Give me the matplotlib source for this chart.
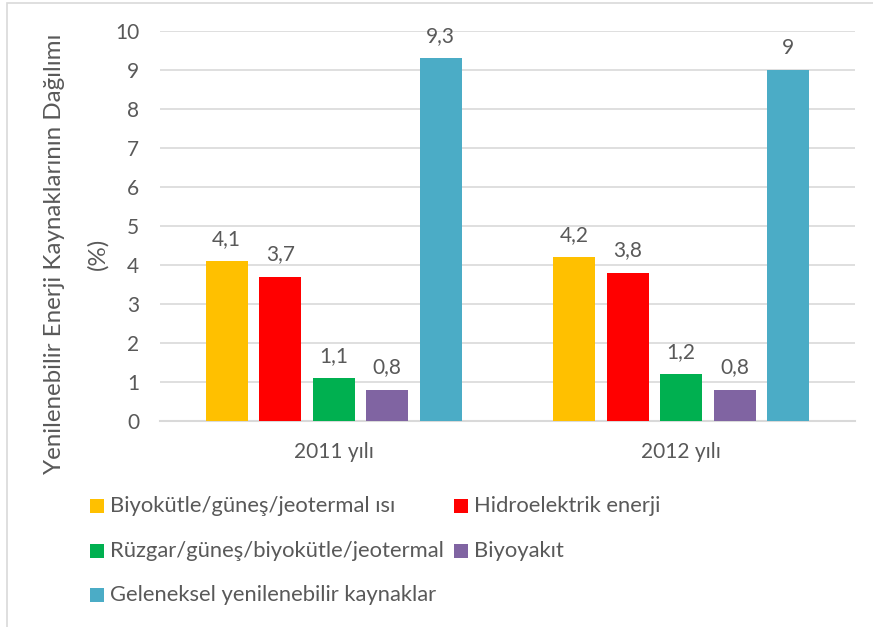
import matplotlib
matplotlib.use("Agg")
import matplotlib.pyplot as plt
import numpy as np
from matplotlib.patches import Rectangle

plt.rcParams['font.family'] = ['Lato', 'DejaVu Sans']

years = ["2011 yılı", "2012 yılı"]
series_names = [
    "Biyokütle/güneş/jeotermal ısı",
    "Hidroelektrik enerji",
    "Rüzgar/güneş/biyokütle/jeotermal",
    "Biyoyakıt",
    "Geleneksel yenilenebilir kaynaklar",
]
biyokutle_isi = [4.1, 4.2]
hidroelektrik = [3.7, 3.8]
ruzgar_gunes = [1.1, 1.2]
biyoyakit = [0.8, 0.8]
geleneksel = [9.3, 9.0]
series_values = [biyokutle_isi, hidroelektrik, ruzgar_gunes, biyoyakit, geleneksel]
colors = ["#FFC000", "#FF0000", "#00B050", "#8064A2", "#4BACC6"]
yticks = list(range(0, 11))

TXT = "#595959"
GRID = "#D9D9D9"

W, H = 873, 627
fig = plt.figure(figsize=(W / 100, H / 100), dpi=100)
ax = fig.add_axes([160 / W, 1 - 421 / H, 695 / W, 390 / H])

x = np.arange(len(years))
width = 0.121
step = 0.154
n = len(series_values)
for i, (vals, col, name) in enumerate(zip(series_values, colors, series_names)):
    pos = x + (i - (n - 1) / 2) * step
    bars = ax.bar(pos, vals, width, color=col, label=name, zorder=3)
    for b, v in zip(bars, vals):
        label = f"{v:g}".replace(".", ",")
        ax.annotate(label, (b.get_x() + b.get_width() / 2, v),
                    xytext=(0, 9), textcoords="offset points",
                    ha="center", va="bottom", fontsize=15, color=TXT)

ax.set_xlim(-0.5, len(years) - 0.5)
ax.set_ylim(0, 10)
ax.set_yticks(yticks)
ax.set_xticks(x)
ax.set_xticklabels(years)
ax.tick_params(axis="y", length=0, pad=15, labelsize=15, labelcolor=TXT)
ax.tick_params(axis="x", length=0, pad=15, labelsize=15, labelcolor=TXT)
ax.yaxis.grid(True, color=GRID, linewidth=1.2, zorder=0)
ax.set_axisbelow(True)
for s in ["top", "right", "left"]:
    ax.spines[s].set_visible(False)
ax.spines["bottom"].set_color(GRID)
ax.spines["bottom"].set_linewidth(1.5)

fig.text(55 / W, 1 - 254 / H, "Yenilenebilir Enerji Kaynaklarının Dağılımı",
         rotation=90, ha="center", va="center", fontsize=17.4, color=TXT)
fig.text(98 / W, 1 - 254 / H, "(%)",
         rotation=90, ha="center", va="center", fontsize=17.4, color=TXT)

# legend laid out in two columns
legend_slots = [(90, 506), (454, 506), (90, 551), (454, 551), (90, 595)]
sq = 14
for (lx, ly), col, name in zip(legend_slots, colors, series_names):
    fig.add_artist(Rectangle((lx / W, 1 - (ly + sq / 2) / H), sq / W, sq / H,
                             transform=fig.transFigure, facecolor=col,
                             edgecolor="none"))
    fig.text((lx + sq + 6) / W, 1 - ly / H, name, ha="left", va="center",
             fontsize=15.8, color=TXT)

# outer chart frame
fig.add_artist(Rectangle((6.5 / W, -0.05), 1.2, 1 - 2.5 / H + 0.05,
                         transform=fig.transFigure, facecolor="none",
                         edgecolor=GRID, linewidth=1.2))

fig.savefig("out.png", dpi=100)
